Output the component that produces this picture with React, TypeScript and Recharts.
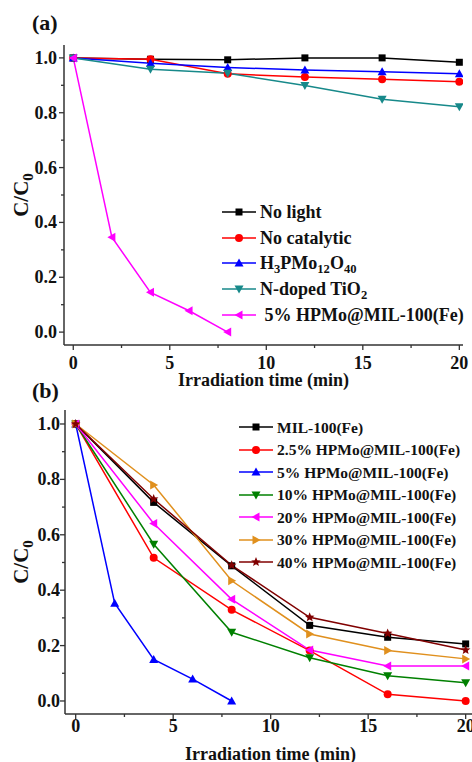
import React from 'react'
import { LineChart, Line, XAxis, YAxis } from 'recharts'

const FONT = '"Liberation Serif", "Times New Roman", serif'
const AXIS = '#333'

// panel (a)
const timesSlow = [0, 4, 8, 12, 16, 20]
const timesFast = [0, 2, 4, 6, 8]
const noLight = [1.0, 0.995, 0.993, 1.0, 1.0, 0.984]
const noCatalytic = [1.0, 0.995, 0.942, 0.93, 0.922, 0.913]
const hpmoAcid = [1.0, 0.98, 0.965, 0.956, 0.949, 0.942]
const nDopedTiO2 = [1.0, 0.959, 0.944, 0.899, 0.849, 0.822]
const hpmo5a = [1.0, 0.346, 0.145, 0.078, 0.0]

// panel (b)
const mil100 = [1.0, 0.717, 0.488, 0.273, 0.23, 0.206]
const hpmo25 = [1.0, 0.517, 0.329, 0.182, 0.024, 0.0]
const hpmo5b = [1.0, 0.353, 0.15, 0.079, 0.0]
const hpmo10 = [1.0, 0.566, 0.248, 0.156, 0.091, 0.066]
const hpmo20 = [1.0, 0.641, 0.367, 0.184, 0.126, 0.126]
const hpmo30 = [1.0, 0.78, 0.434, 0.242, 0.182, 0.152]
const hpmo40 = [1.0, 0.729, 0.49, 0.302, 0.244, 0.184]

const xTicks = [0, 2.5, 5, 7.5, 10, 12.5, 15, 17.5, 20]
const yTicks = [0, 0.1, 0.2, 0.3, 0.4, 0.5, 0.6, 0.7, 0.8, 0.9, 1.0]

type Shape = 'square' | 'circle' | 'up' | 'down' | 'left' | 'right' | 'star'

interface Series {
  name: string
  color: string
  shape: Shape
  times: number[]
  values: number[]
}

const seriesA: Series[] = [
  { name: 'No light', color: '#000000', shape: 'square', times: timesSlow, values: noLight },
  { name: 'No catalytic', color: '#ff0000', shape: 'circle', times: timesSlow, values: noCatalytic },
  { name: 'H_3PMo_12O_40', color: '#0000ff', shape: 'up', times: timesSlow, values: hpmoAcid },
  { name: 'N-doped TiO_2', color: '#17898a', shape: 'down', times: timesSlow, values: nDopedTiO2 },
  { name: ' 5% HPMo@MIL-100(Fe)', color: '#ff00ff', shape: 'left', times: timesFast, values: hpmo5a },
]

const seriesB: Series[] = [
  { name: 'MIL-100(Fe)', color: '#000000', shape: 'square', times: timesSlow, values: mil100 },
  { name: '2.5% HPMo@MIL-100(Fe)', color: '#ff0000', shape: 'circle', times: timesSlow, values: hpmo25 },
  { name: '5% HPMo@MIL-100(Fe)', color: '#0000ff', shape: 'up', times: timesFast, values: hpmo5b },
  { name: '10% HPMo@MIL-100(Fe)', color: '#008000', shape: 'down', times: timesSlow, values: hpmo10 },
  { name: '20% HPMo@MIL-100(Fe)', color: '#ff00ff', shape: 'left', times: timesSlow, values: hpmo20 },
  { name: '30% HPMo@MIL-100(Fe)', color: '#e0901e', shape: 'right', times: timesSlow, values: hpmo30 },
  { name: '40% HPMo@MIL-100(Fe)', color: '#800000', shape: 'star', times: timesSlow, values: hpmo40 },
]

const toPoints = (s: Series) => s.times.map((t, i) => ({ t, v: s.values[i] }))

function Marker({ cx, cy, shape, color }: { cx: number; cy: number; shape: Shape; color: string }) {
  if (cx == null || cy == null) return null
  const r = 4.5
  switch (shape) {
    case 'square':
      return <rect x={cx - 3.5} y={cy - 3.5} width={7} height={7} fill={color} />
    case 'circle':
      return <circle cx={cx} cy={cy} r={4} fill={color} />
    case 'up':
      return <polygon points={`${cx},${cy - r} ${cx + r},${cy + 3.5} ${cx - r},${cy + 3.5}`} fill={color} />
    case 'down':
      return <polygon points={`${cx},${cy + r} ${cx + r},${cy - 3.5} ${cx - r},${cy - 3.5}`} fill={color} />
    case 'left':
      return <polygon points={`${cx - r},${cy} ${cx + 3.5},${cy - r} ${cx + 3.5},${cy + r}`} fill={color} />
    case 'right':
      return <polygon points={`${cx + r},${cy} ${cx - 3.5},${cy - r} ${cx - 3.5},${cy + r}`} fill={color} />
    case 'star': {
      const pts: string[] = []
      for (let k = 0; k < 10; k++) {
        const rad = k % 2 === 0 ? 5 : 2.2
        const a = -Math.PI / 2 + (k * Math.PI) / 5
        pts.push(`${cx + rad * Math.cos(a)},${cy + rad * Math.sin(a)}`)
      }
      return <polygon points={pts.join(' ')} fill={color} />
    }
  }
  return null
}

// "_12" -> subscript 12
function withSubs(label: string) {
  const parts = label.split(/_(\d+)/)
  return parts.map((p, i) =>
    i % 2 === 1 ? (
      <sub key={i} style={{ fontSize: '0.7em', verticalAlign: '-0.35em', lineHeight: 0 }}>{p}</sub>
    ) : (
      <span key={i} style={{ whiteSpace: 'pre' }}>{p}</span>
    ),
  )
}

const isMajor = (v: number, step: number) => Math.abs(v / step - Math.round(v / step)) < 1e-6

function XTick(props: any) {
  const { x, y, payload, labelDy } = props
  const major = isMajor(payload.value, 5)
  return (
    <g>
      <line x1={x} y1={y} x2={x} y2={y + (major ? 5 : 3)} stroke={AXIS} strokeWidth={1.3} />
      {major && (
        <text x={x} y={y + labelDy} textAnchor="middle" fontFamily={FONT} fontWeight="bold" fontSize={18} fill="#111">
          {payload.value}
        </text>
      )}
    </g>
  )
}

function YTick(props: any) {
  const { x, y, payload, labelGap } = props
  const major = isMajor(payload.value, 0.2)
  return (
    <g>
      <line x1={x} y1={y} x2={x - (major ? 5 : 3)} y2={y} stroke={AXIS} strokeWidth={1.3} />
      {major && (
        <text x={x - labelGap} y={y + 6} textAnchor="end" fontFamily={FONT} fontWeight="bold" fontSize={18} fill="#111">
          {payload.value.toFixed(1)}
        </text>
      )}
    </g>
  )
}

function XTitle({ viewBox, dy }: any) {
  const vb = viewBox ?? { x: 0, y: 0, width: 0 }
  return (
    <text x={vb.x + vb.width / 2} y={vb.y + dy} textAnchor="middle" fontFamily={FONT} fontWeight="bold" fontSize={18} fill="#111">
      Irradiation time (min)
    </text>
  )
}

function YTitle({ viewBox }: any) {
  const vb = viewBox ?? { x: 0, y: 0, height: 0 }
  const cx = vb.x + 28
  const cy = vb.y + vb.height / 2
  return (
    <text
      x={cx}
      y={cy}
      transform={`rotate(-90 ${cx} ${cy})`}
      textAnchor="middle"
      fontFamily={FONT}
      fontWeight="bold"
      fontSize={21}
      fill="#111"
    >
      C/C
      <tspan fontSize={15} dy={5}>0</tspan>
    </text>
  )
}

function LegendBox({ series, left, top, rowH, fontSize }: { series: Series[]; left: number; top: number; rowH: number; fontSize: number }) {
  return (
    <div style={{ position: 'absolute', left, top, fontFamily: FONT, fontWeight: 'bold', fontSize, color: '#111' }}>
      {series.map(s => (
        <div key={s.name} style={{ height: rowH, display: 'flex', alignItems: 'center', whiteSpace: 'nowrap' }}>
          <svg width={34} height={14} style={{ flex: 'none' }}>
            <line x1={0} y1={7} x2={34} y2={7} stroke={s.color} strokeWidth={1.6} />
            <Marker cx={17} cy={7} shape={s.shape} color={s.color} />
          </svg>
          <span style={{ marginLeft: 4, lineHeight: 1 }}>{withSubs(s.name)}</span>
        </div>
      ))}
    </div>
  )
}

interface PanelProps {
  series: Series[]
  width: number
  height: number
  margin: { top: number; right: number; bottom: number; left: number }
  yAxisWidth: number
  xAxisHeight: number
  xDomain: [number, number]
  yDomain: [number, number]
  tickDy: number
  tickGap: number
  titleDy: number
}

function Panel(p: PanelProps) {
  return (
    <LineChart width={p.width} height={p.height} margin={p.margin}>
      <XAxis
        dataKey="t"
        type="number"
        domain={p.xDomain}
        allowDataOverflow
        ticks={xTicks}
        interval={0}
        height={p.xAxisHeight}
        tickSize={0}
        tickMargin={0}
        tickLine={false}
        axisLine={{ stroke: AXIS, strokeWidth: 1.5 }}
        tick={<XTick labelDy={p.tickDy} />}
        label={{ content: (lp: any) => <XTitle viewBox={lp.viewBox} dy={p.titleDy} /> }}
      />
      <XAxis xAxisId="top" orientation="top" type="number" domain={p.xDomain} allowDataOverflow height={0} tick={false} tickLine={false} axisLine={{ stroke: AXIS, strokeWidth: 1.5 }} />
      <YAxis
        type="number"
        domain={p.yDomain}
        allowDataOverflow
        ticks={yTicks}
        interval={0}
        width={p.yAxisWidth}
        tickSize={0}
        tickMargin={0}
        tickLine={false}
        axisLine={{ stroke: AXIS, strokeWidth: 1.5 }}
        tick={<YTick labelGap={p.tickGap} />}
        label={{ content: (lp: any) => <YTitle viewBox={lp.viewBox} /> }}
      />
      <YAxis yAxisId="right" orientation="right" type="number" domain={p.yDomain} allowDataOverflow width={0} tick={false} tickLine={false} axisLine={{ stroke: AXIS, strokeWidth: 1.5 }} />
      {p.series.map(s => (
        <Line
          key={s.name}
          data={toPoints(s)}
          dataKey="v"
          type="linear"
          stroke={s.color}
          strokeWidth={1.5}
          isAnimationActive={false}
          dot={(dp: any) => <Marker key={`${s.name}-${dp.index}`} cx={dp.cx} cy={dp.cy} shape={s.shape} color={s.color} />}
        />
      ))}
    </LineChart>
  )
}

const panelLetter: React.CSSProperties = {
  position: 'absolute',
  fontFamily: FONT,
  fontWeight: 'bold',
  fontSize: 22,
  color: '#111',
  lineHeight: 1,
}

export default function App() {
  return (
    <div style={{ position: 'relative', width: 472, height: 762, overflow: 'hidden', background: '#fff' }}>
      <style>{'body{margin:0}'}</style>
      <div style={{ position: 'absolute', left: 0, top: 0 }}>
        <Panel
          series={seriesA}
          width={472}
          height={390}
          margin={{ top: 45, right: 9, bottom: 0, left: 0 }}
          yAxisWidth={64}
          xAxisHeight={45}
          xDomain={[-0.48, 20.19]}
          yDomain={[-0.047, 1.047]}
          tickDy={23.5}
          tickGap={7}
          titleDy={41}
        />
      </div>
      <span style={{ ...panelLetter, left: 32, top: 12 }}>(a)</span>
      <LegendBox series={seriesA} left={222} top={199} rowH={25.75} fontSize={18} />

      <div style={{ position: 'absolute', left: 0, top: 370 }}>
        <Panel
          series={seriesB}
          width={480}
          height={392}
          margin={{ top: 40, right: 4, bottom: 0, left: 0 }}
          yAxisWidth={65}
          xAxisHeight={48}
          xDomain={[-0.548, 20.53]}
          yDomain={[-0.047, 1.0505]}
          tickDy={18}
          tickGap={5}
          titleDy={46}
        />
      </div>
      <span style={{ ...panelLetter, left: 32, top: 380 }}>(b)</span>
      <LegendBox series={seriesB} left={239} top={416} rowH={22.5} fontSize={15.5} />
    </div>
  )
}
